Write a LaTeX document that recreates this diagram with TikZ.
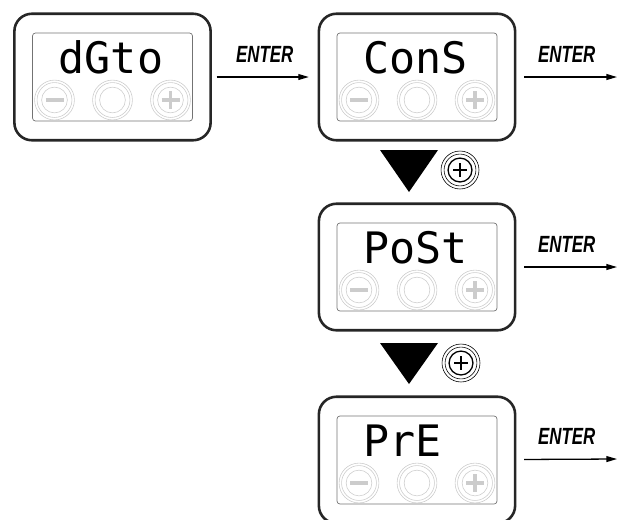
\documentclass[tikz,border=0pt]{standalone}
\usepackage{fontspec}
\usetikzlibrary{arrows.meta}
\newfontfamily\segfont{DejaVu Sans Mono}
\newfontfamily\enterfont[FakeStretch=0.72]{Liberation Sans}
\definecolor{rimgray}{gray}{0.15}
\definecolor{keygray}{gray}{0.8}
\tikzset{
  panel/.style={draw=rimgray, line width=2.2pt, rounded corners=15pt, minimum width=167.5pt, minimum height=108pt, inner sep=0pt},
  screen/.style={draw=black!55, line width=0.6pt, rounded corners=2.5pt},
  segtext/.style={font=\segfont\fontsize{37pt}{37pt}\selectfont, anchor=base west, inner sep=0pt},
  keyring/.style={draw=keygray, line width=0.5pt},
  keysign/.style={draw=keygray, line width=2.6pt},
  enterarrow/.style={-{Triangle[length=9pt,width=5pt]}, line width=1.1pt},
  enterlabel/.style={font=\enterfont\bfseries\itshape\fontsize{20pt}{20pt}\selectfont, anchor=base, inner sep=0pt, yshift=12.8pt}
}
\newcommand{\panelunit}[3]{%
  \node[panel] (#1) at (#2) {};
  \begin{scope}[shift={(#1.center)}]
    \draw[screen] (-80,-44) rectangle (80,44);
    \node[segtext] (#1-text) at (-54,-4) {#3};
    \foreach \kx in {-58,0,58}{
      \draw[keyring] (\kx,23) circle (17pt) (\kx,23) circle (14.9pt) (\kx,23) circle (11pt);
    }
    \draw[keysign] (-67,23) -- (-49,23);
    \draw[keysign] (49,23) -- (67,23) (58,14) -- (58,32);
  \end{scope}}
\newcommand{\pluskey}[2]{%
  \coordinate (#1) at (#2);
  \begin{scope}[shift={(#1)}]
    \draw[line width=0.5pt] (0,0) circle (16.2pt) (0,0) circle (13.6pt);
    \draw[line width=1.1pt] (0,0) circle (10.2pt);
    \draw[line width=2.5pt] (-7,0) -- (7,0) (0,-7) -- (0,7);
  \end{scope}}
\begin{document}
\begin{tikzpicture}[x=0.03cm,y=-0.03cm]
\useasboundingbox (0,0) rectangle (622,519);
\clip (0,0) rectangle (622,519);

\panelunit{dgto}{112.5,77}{dGto}
\panelunit{cons}{417,77}{ConS}
\panelunit{post}{417,267}{PoSt}
\panelunit{pre}{417,460}{PrE}

\coordinate (cons-out) at (617,77);
\coordinate (post-out) at (617,267);
\coordinate (pre-out) at (617,459);

\draw[enterarrow, shorten <=4pt, shorten >=7.5pt] (dgto) -- node[enterlabel]{ENTER} (cons);
\draw[enterarrow, shorten <=6.5pt] (cons) -- node[enterlabel]{ENTER} (cons-out);
\draw[enterarrow, shorten <=6.5pt] (post) -- node[enterlabel]{ENTER} (post-out);
\draw[enterarrow, shorten <=6.5pt] (pre) -- node[enterlabel]{ENTER} (pre-out);

\fill (380,150) -- (438,150) -- (409,192) -- cycle;
\fill (380,343) -- (438,343) -- (409,384) -- cycle;
\pluskey{plus-a}{460,170}
\pluskey{plus-b}{461,363}
\end{tikzpicture}
\end{document}
